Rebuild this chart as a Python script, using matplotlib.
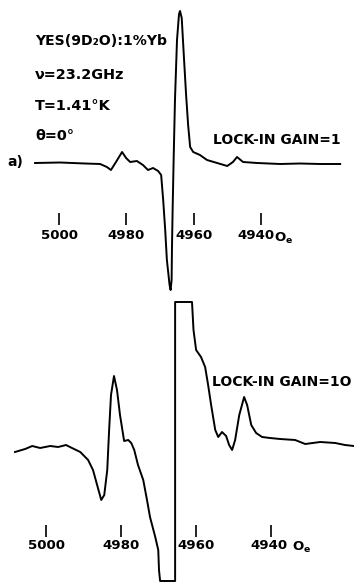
"""
EPR trace of YES(9D2O):1%Yb at 23.2 GHz, shown at lock-in gain 1 and 10.
Writes out.png.
"""

import matplotlib
matplotlib.use("Agg")
import matplotlib.pyplot as plt
from matplotlib.transforms import ScaledTranslation

W, H = 354, 582
TICKS = [5000, 4980, 4960, 4940]
TICK_LABELS = ["5000", "4980", "4960", "4940"]

# panel a), lock-in gain = 1: field (Oe) and signal (arb. units)
field_a = [5007.1, 4999.7, 4992.3, 4987.8, 4985.8, 4984.6, 4983.1, 4981.3, 4980.1,
           4978.9, 4976.9, 4975.1, 4973.6, 4972.1, 4970.6, 4969.7, 4969.1, 4968.5,
           4968.0, 4967.2, 4966.9, 4966.6, 4966.5, 4966.3, 4966.0, 4965.6, 4965.0,
           4964.4, 4964.1, 4963.6, 4962.9, 4962.3, 4961.7, 4961.1, 4960.2, 4958.2,
           4956.1, 4953.1, 4950.1, 4948.4, 4947.2, 4945.4, 4941.2, 4934.4, 4928.5,
           4922.6, 4916.6]
signal_a = [0.0, 0.05, -0.05, -0.1, -0.4, -0.7, 0.1, 1.1, 0.5,
            0.1, 0.2, -0.2, -0.7, -0.5, -0.8, -1.2, -3.7, -6.7,
            -9.7, -12.2, -12.7, -11.7, -8.7, -4.7, 0.3, 6.3, 12.3,
            14.9, 15.2, 14.5, 10.3, 6.8, 3.8, 1.6, 1.1, 0.8,
            0.3, 0.0, -0.3, 0.1, 0.6, 0.1, 0.0, -0.1, -0.05,
            -0.1, -0.1]

# lock-in gain = 10 (centre line saturates the recorder)
field_b = [5008.3, 5005.6, 5003.7, 5001.6, 4998.9, 4996.8, 4994.7, 4993.1, 4990.9,
           4988.8, 4987.5, 4986.4, 4985.3, 4984.5, 4983.7, 4983.2, 4982.7, 4981.9,
           4981.1, 4980.3, 4979.2, 4978.1, 4977.3, 4976.5, 4975.5, 4974.1, 4973.1,
           4972.3, 4970.9, 4970.1, 4969.9, 4969.6, 4965.6, 4965.6, 4961.1, 4960.7,
           4960.0, 4958.7, 4957.6, 4956.8, 4956.0, 4954.9, 4954.1, 4953.1, 4952.0,
           4951.2, 4950.4, 4949.6, 4948.5, 4947.2, 4946.4, 4945.3, 4944.0, 4942.4,
           4940.3, 4937.6, 4933.6, 4930.9, 4926.9, 4922.9, 4920.3, 4917.9]
signal_b = [-0.5, -0.2, 0.1, -0.1, 0.1, 0.0, 0.2, -0.1, -0.5,
            -1.3, -2.3, -3.8, -5.3, -4.8, -2.3, 1.7, 5.2, 7.1,
            5.7, 3.2, 0.6, 0.7, 0.4, -0.3, -1.8, -3.3, -5.3,
            -7.0, -9.0, -10.3, -12.3, -13.4, -13.4, 14.5, 14.5, 11.7,
            9.7, 9.0, 8.0, 6.2, 4.2, 1.7, 1.0, 1.5, 1.1,
            0.2, -0.3, 0.7, 3.2, 5.0, 4.2, 2.2, 1.4, 1.0,
            0.9, 0.8, 0.7, 0.3, 0.5, 0.4, 0.2, 0.1]

FONT = dict(family="DejaVu Sans", fontweight="bold", color="black")
TICK_FS = 9.6


def panel(rect, field, signal, xlim, ylim, tick_y, pad, unit_dx, last_shift):
    ax = fig.add_axes(rect)
    ax.patch.set_alpha(0)
    ax.plot(field, signal, color="black", lw=1.4, clip_on=False)
    ax.set_xlim(*xlim)
    ax.set_ylim(*ylim)
    for s in ["top", "left", "right"]:
        ax.spines[s].set_visible(False)
    ax.spines["bottom"].set_position(("data", tick_y))
    ax.spines["bottom"].set_visible(False)
    ax.set_yticks([])
    ax.set_xticks(TICKS)
    ax.set_xticklabels(TICK_LABELS, fontsize=TICK_FS, fontweight="bold")
    ax.tick_params(axis="x", direction="out", length=8.6, width=1.2, pad=pad)
    # hand-lettered "4940" sits a little left of its tick
    lab = ax.get_xticklabels()[-1]
    lab.set_transform(lab.get_transform()
                      + ScaledTranslation(last_shift / 100, 0, fig.dpi_scale_trans))
    ax.annotate("O$_\\mathbf{e}$", xy=(4940, tick_y), xytext=(unit_dx, -8.6 - pad - 1),
                textcoords="offset points", ha="left", va="top", fontsize=TICK_FS,
                fontweight="bold")
    return ax


fig = plt.figure(figsize=(W / 100, H / 100), dpi=100)
fig.patch.set_facecolor("white")

panel([0, 282 / H, 1, 300 / H], field_a, signal_a, (5017.5, 4912.5), (-13.7, 16.3),
      -5.0, 3.0, 9.4, -5)
panel([0, 0, 1, 282 / H], field_b, signal_b, (5012.3, 4917.9), (-13.5, 14.7),
      -7.8, 1.2, 15.0, -2)


def label(x, y, s, size=10.0, ha="left"):
    fig.text(x / W, 1 - y / H, s, ha=ha, va="center", fontsize=size, **FONT)


label(35, 41, "YES(9D₂O):1%Yb", size=10.1)
label(35, 75, "ν=23.2GHz", size=10.4)
label(35, 106, "T=1.41°K", size=10.4)
label(35, 136, "θ=0°", size=10.4)
label(7, 162, "a)")
label(213, 140, "LOCK-IN GAIN=1")
label(212, 382, "LOCK-IN GAIN=1O")

fig.savefig("out.png", dpi=100)
